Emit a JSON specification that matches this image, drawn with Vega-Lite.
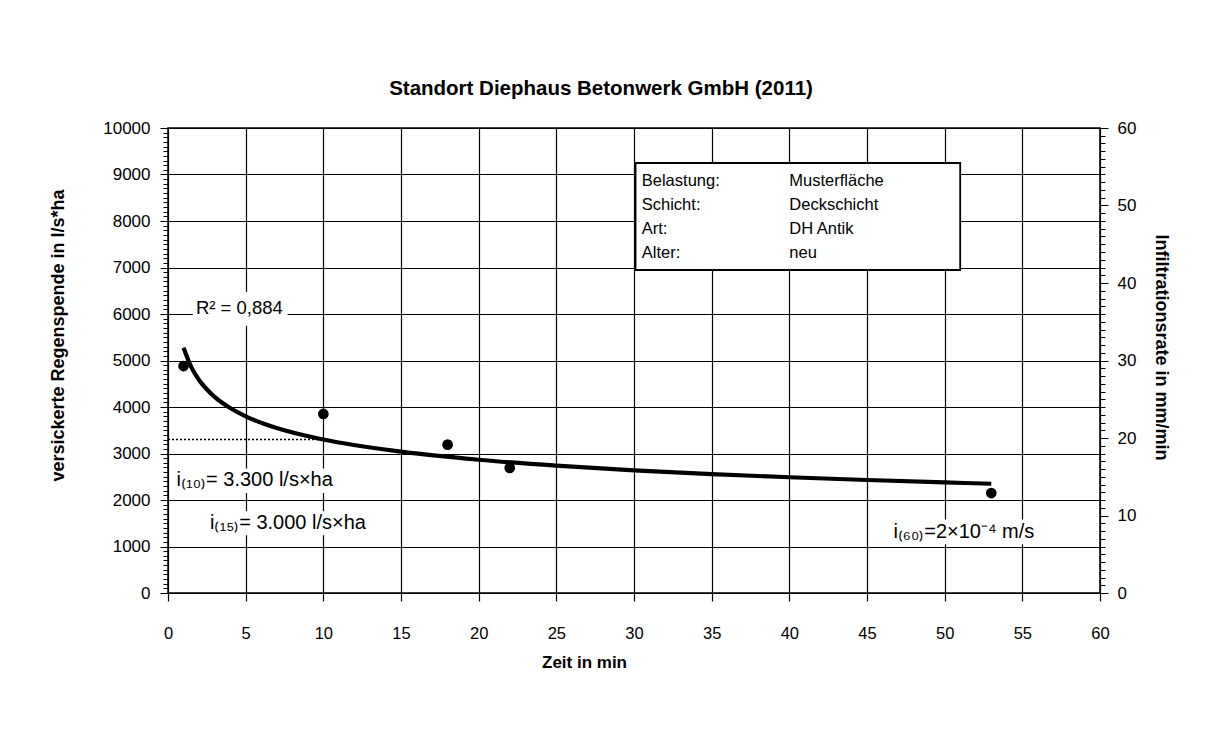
{
  "$schema": "https://vega.github.io/schema/vega-lite/v6.json",
  "width": 932,
  "height": 465,
  "autosize": {"type": "none"},
  "padding": {"left": 168, "top": 128, "right": 120, "bottom": 140},
  "background": "white",
  "config": {
    "font": "Liberation Sans",
    "view": {"stroke": "black", "strokeWidth": 1.5},
    "axis": {"labelFont": "Liberation Sans", "titleFont": "Liberation Sans", "labelColor": "black", "titleColor": "black", "domainColor": "black", "tickColor": "black", "labelFontSize": 17, "titleFontSize": 18, "titleFontWeight": "bold"}
  },
  "title": {
    "text": "Standort Diephaus Betonwerk GmbH (2011)",
    "fontSize": 20.5,
    "fontWeight": "bold",
    "font": "Liberation Sans",
    "color": "black",
    "anchor": "middle",
    "dx": -33,
    "offset": 20
  },
  "datasets": {
    "points": [
      {"x": 1, "y": 4880},
      {"x": 10, "y": 3850},
      {"x": 18, "y": 3190},
      {"x": 22, "y": 2690},
      {"x": 53, "y": 2150}
    ],
    "fit": [
      {"x": 1, "y": 5274},
      {"x": 1.5, "y": 4856},
      {"x": 2, "y": 4580},
      {"x": 3, "y": 4217},
      {"x": 4, "y": 3977},
      {"x": 5, "y": 3800},
      {"x": 7, "y": 3549},
      {"x": 10, "y": 3300},
      {"x": 15, "y": 3039},
      {"x": 20, "y": 2866},
      {"x": 25, "y": 2739},
      {"x": 30, "y": 2639},
      {"x": 35, "y": 2557},
      {"x": 40, "y": 2489},
      {"x": 45, "y": 2430},
      {"x": 50, "y": 2378},
      {"x": 53, "y": 2350}
    ],
    "ref": [{"x": 0, "x2": 10, "y": 3300}],
    "legendbox": [{"x": 30.1, "x2": 51, "y": 6946, "y2": 9247}],
    "labelbg": [
      {"x": 1.6, "x2": 7.7, "y": 5750, "y2": 6480},
      {"x": 0.4, "x2": 11.5, "y": 2150, "y2": 2680},
      {"x": 2.6, "x2": 13.6, "y": 1240, "y2": 1760},
      {"x": 46.5, "x2": 56.2, "y": 1050, "y2": 1580}
    ],
    "legendtext": [
      {"x": 30.5, "y": 8860, "t": "Belastung:"},
      {"x": 40.0, "y": 8860, "t": "Musterfläche"},
      {"x": 30.5, "y": 8344, "t": "Schicht:"},
      {"x": 40.0, "y": 8344, "t": "Deckschicht"},
      {"x": 30.5, "y": 7828, "t": "Art:"},
      {"x": 40.0, "y": 7828, "t": "DH Antik"},
      {"x": 30.5, "y": 7312, "t": "Alter:"},
      {"x": 40.0, "y": 7312, "t": "neu"}
    ],
    "rsq": [
      {"x": 1.8, "y": 6120, "t": "R² = 0,884"}
    ],
    "notes": [
      {"x": 0.55, "y": 2420, "t": "i₍₁₀₎= 3.300 l/s×ha"},
      {"x": 2.7, "y": 1500, "t": "i₍₁₅₎= 3.000 l/s×ha"},
      {"x": 46.7, "y": 1310, "t": "i₍₆₀₎=2×10⁻⁴ m/s"}
    ],
    "rate": [{"r": 0}, {"r": 60}]
  },
  "layer": [
    {
      "encoding": {
        "x": {
          "field": "x",
          "type": "quantitative",
          "scale": {"domain": [0, 60], "nice": false, "zero": false},
          "axis": {
            "title": "Zeit in min",
            "titleFontSize": 17,
            "labelFontSize": 16.5,
            "values": [0, 5, 10, 15, 20, 25, 30, 35, 40, 45, 50, 55, 60],
            "grid": true,
            "gridColor": "black",
            "gridWidth": 1.2,
            "gridOpacity": 1,
            "domain": false,
            "tickSize": 8,
            "tickWidth": 1.2,
            "labelPadding": 24,
            "format": "d",
            "labelFlush": false,
            "titleX": 416,
            "titleY": 69,
            "titleBaseline": "middle",
            "titleAnchor": "middle"
          }
        },
        "y": {
          "field": "y",
          "type": "quantitative",
          "scale": {"domain": [0, 10000], "nice": false},
          "axis": {
            "title": "versickerte Regenspende in l/s*ha",
            "values": [0,100,200,300,400,500,600,700,800,900,1000,1100,1200,1300,1400,1500,1600,1700,1800,1900,2000,2100,2200,2300,2400,2500,2600,2700,2800,2900,3000,3100,3200,3300,3400,3500,3600,3700,3800,3900,4000,4100,4200,4300,4400,4500,4600,4700,4800,4900,5000,5100,5200,5300,5400,5500,5600,5700,5800,5900,6000,6100,6200,6300,6400,6500,6600,6700,6800,6900,7000,7100,7200,7300,7400,7500,7600,7700,7800,7900,8000,8100,8200,8300,8400,8500,8600,8700,8800,8900,9000,9100,9200,9300,9400,9500,9600,9700,9800,9900,10000],
            "labelExpr": "datum.value % 1000 === 0 ? format(datum.value, 'd') : ''",
            "labelOverlap": false,
            "labelFlush": false,
            "grid": true,
            "gridColor": "black",
            "gridWidth": 1.2,
            "gridOpacity": {"condition": {"test": "datum.value % 1000 === 0", "value": 1}, "value": 0},
            "domain": false,
            "tickSize": {"condition": {"test": "datum.value % 1000 === 0", "value": 8}, "value": 5},
            "tickWidth": 1,
            "labelPadding": 10,
            "titleX": -110,
            "titleY": 207,
            "titleAnchor": "middle",
            "titleAlign": "center",
            "titleBaseline": "middle",
            "titleAngle": -90
          }
        }
      },
      "layer": [
        {
          "data": {"name": "legendbox"},
          "mark": {"type": "rect", "fill": "white", "stroke": "black", "strokeWidth": 1.8},
          "encoding": {"x2": {"field": "x2"}, "y2": {"field": "y2"}}
        },
        {
          "data": {"name": "labelbg"},
          "mark": {"type": "rect", "fill": "white", "stroke": null},
          "encoding": {"x2": {"field": "x2"}, "y2": {"field": "y2"}}
        },
        {
          "data": {"name": "ref"},
          "mark": {"type": "rule", "color": "black", "strokeWidth": 1.5, "strokeDash": [2, 2]},
          "encoding": {"x2": {"field": "x2"}}
        },
        {
          "data": {"name": "fit"},
          "mark": {"type": "line", "color": "black", "strokeWidth": 4.2, "interpolate": "monotone"},
          "encoding": {}
        },
        {
          "data": {"name": "points"},
          "mark": {"type": "circle", "color": "black", "opacity": 1, "size": 115},
          "encoding": {}
        },
        {
          "data": {"name": "legendtext"},
          "mark": {"type": "text", "align": "left", "baseline": "middle", "fontSize": 16.5, "color": "black", "font": "Liberation Sans"},
          "encoding": {"text": {"field": "t"}}
        },
        {
          "data": {"name": "rsq"},
          "mark": {"type": "text", "align": "left", "baseline": "middle", "fontSize": 18.5, "color": "black", "font": "Liberation Sans"},
          "encoding": {"text": {"field": "t"}}
        },
        {
          "data": {"name": "notes"},
          "mark": {"type": "text", "align": "left", "baseline": "middle", "fontSize": 20, "color": "black", "font": "Liberation Sans"},
          "encoding": {"text": {"field": "t"}}
        }
      ]
    },
    {
      "data": {"name": "rate"},
      "mark": {"type": "point", "opacity": 0},
      "encoding": {
        "y": {
          "field": "r",
          "type": "quantitative",
          "scale": {"domain": [0, 60], "nice": false},
          "axis": {
            "orient": "right",
            "title": "Infiltrationsrate in mm/min",
            "values": [0,1,2,3,4,5,6,7,8,9,10,11,12,13,14,15,16,17,18,19,20,21,22,23,24,25,26,27,28,29,30,31,32,33,34,35,36,37,38,39,40,41,42,43,44,45,46,47,48,49,50,51,52,53,54,55,56,57,58,59,60],
            "labelExpr": "datum.value % 10 === 0 ? format(datum.value, 'd') : ''",
            "labelOverlap": false,
            "labelFlush": false,
            "grid": false,
            "domain": false,
            "tickSize": {"condition": {"test": "datum.value % 10 === 0", "value": 8}, "value": 5},
            "tickWidth": 1,
            "labelPadding": 9,
            "titleX": 60,
            "titleY": 219,
            "titleAngle": 90,
            "titleAlign": "center",
            "titleBaseline": "middle"
          }
        }
      }
    }
  ],
  "resolve": {"scale": {"y": "independent"}, "axis": {"y": "independent"}}
}
